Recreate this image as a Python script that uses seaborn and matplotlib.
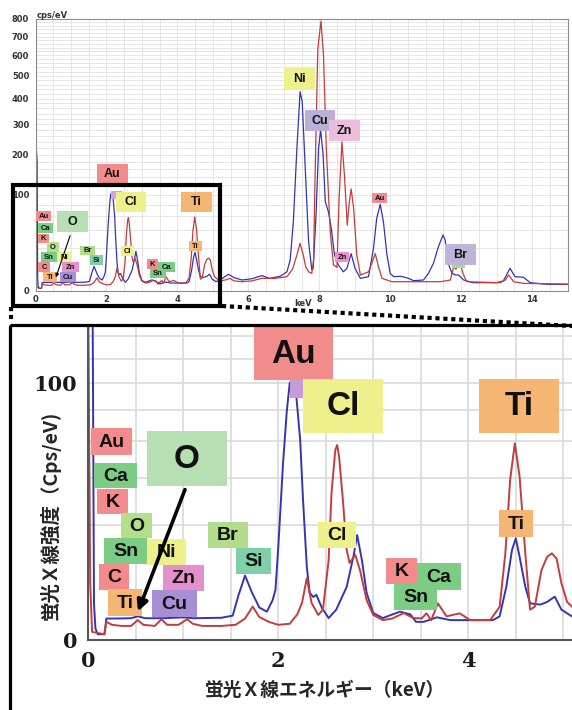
import numpy as np
import pandas as pd
import matplotlib
matplotlib.use("Agg")
import matplotlib.pyplot as plt
import seaborn as sns
from matplotlib.patches import Rectangle, FancyArrowPatch
from matplotlib.ticker import MultipleLocator, NullFormatter
from matplotlib.lines import Line2D

# ---------------- data ----------------
energy_blue = [0.0, 0.045, 0.06, 0.075, 0.10, 0.17, 0.19, 0.30, 0.45, 0.52, 0.60, 0.80, 1.00, 1.10,
               1.40, 1.52, 1.58, 1.65, 1.72, 1.80, 1.88, 1.94, 1.97, 2.00, 2.05, 2.09, 2.12, 2.15,
               2.17, 2.19, 2.23, 2.26, 2.30, 2.33, 2.37, 2.40, 2.46, 2.53, 2.61, 2.72, 2.79, 2.83,
               2.88, 2.93, 3.00, 3.10, 3.28, 3.39, 3.45, 3.53, 3.67, 3.81, 4.26, 4.33, 4.40, 4.46,
               4.50, 4.54, 4.60, 4.65, 4.76, 4.83, 4.91, 4.98, 5.09, 5.20, 5.44, 5.60, 5.82, 6.10,
               6.38, 6.60, 6.90, 7.09, 7.18, 7.27, 7.37, 7.46, 7.52, 7.60, 7.70, 7.79, 7.83, 7.91,
               7.98, 8.04, 8.11, 8.17, 8.26, 8.34, 8.43, 8.54, 8.68, 8.78, 8.90, 9.01, 9.16, 9.39,
               9.53, 9.62, 9.72, 9.81, 9.91, 10.00, 10.10, 10.30, 10.52, 10.66, 10.94, 11.08, 11.22,
               11.36, 11.49, 11.55, 11.64, 11.74, 11.84, 11.93, 12.07, 12.34, 13.00, 13.19, 13.38,
               13.52, 13.76, 13.95, 14.42, 15.00]
cps_blue = [270, 180, 2, 0.2, 0.05, 0.05, 0.7, 0.7, 0.72, 0.85, 0.72, 0.72, 0.78, 0.72,
            0.75, 0.9, 3.0, 6.3, 3.5, 1.6, 1.22, 2.4, 3.8, 13.2, 47.5, 80, 100, 104,
            102, 90, 61, 30, 8.2, 3.4, 2.8, 3.1, 1.55, 0.73, 1.4, 4.3, 10.5, 16.7,
            9.7, 3.35, 1.1, 0.73, 1.22, 1.0, 0.5, 0.5, 0.78, 0.6, 0.6, 0.85, 4.3, 12.3,
            15.7, 10.5, 4.3, 2.04, 1.9, 2.2, 2.85, 1.4, 0.85, 1.2, 2.85, 1.8, 1.2, 1.5,
            2.4, 1.6, 2.2, 3.8, 10, 51, 219, 429, 387, 171, 25.8, 4.6, 5.3, 62,
            219, 280, 199, 86, 67, 42, 13.7, 7.1, 3.8, 5.3, 14.7, 5.3, 1.6, 2.07,
            19.3, 56.5, 80.6, 51, 13.7, 3.2, 2.07, 2.2, 1.6, 1.04, 1.2, 3.2, 8,
            20.8, 33.4, 27.7, 8, 3.2, 2.6, 2.6, 1.2, 0.66, 0.66, 1.0, 5.3,
            2.07, 1.9, 0.66, 0.42, 0.4]

energy_red = [0.0, 0.02, 0.04, 0.17, 0.19, 0.25, 0.35, 0.45, 0.52, 0.58, 0.70, 0.77, 0.83, 0.95,
              1.04, 1.10, 1.20, 1.40, 1.55, 1.65, 1.73, 1.80, 1.90, 2.00, 2.12, 2.20, 2.25, 2.30,
              2.35, 2.42, 2.47, 2.53, 2.56, 2.60, 2.62, 2.64, 2.68, 2.72, 2.75, 2.81, 2.86, 2.93,
              3.00, 3.10, 3.20, 3.32, 3.42, 3.51, 3.56, 3.61, 3.68, 3.77, 3.91, 4.02, 4.23, 4.33,
              4.39, 4.44, 4.49, 4.54, 4.60, 4.65, 4.70, 4.77, 4.83, 4.88, 4.93, 4.98, 5.04, 5.09,
              5.20, 5.35, 5.48, 5.60, 5.82, 6.10, 6.38, 6.76, 7.09, 7.25, 7.37, 7.46, 7.55, 7.62,
              7.70, 7.79, 7.84, 7.88, 7.96, 8.05, 8.12, 8.20, 8.31, 8.40, 8.50, 8.56, 8.64, 8.71,
              8.79, 8.85, 8.90, 8.97, 9.06, 9.16, 9.39, 9.50, 9.58, 9.67, 9.77, 10.05, 11.42,
              11.70, 11.79, 11.85, 11.98, 12.05, 12.16, 13.10, 13.25, 13.34, 13.48, 13.76, 15.00]
cps_red = [160, 5, 0.1, 0.05, 0.5, 0.35, 0.3, 0.3, 0.6, 0.35, 0.3, 0.65, 0.35, 0.35,
           0.65, 0.4, 0.3, 0.3, 0.35, 0.7, 1.7, 0.8, 0.5, 0.35, 0.4, 1.0, 2.1, 5.8,
           2.1, 0.95, 1.4, 9.7, 32.7, 54.8, 57.7, 51, 29.7, 12.3, 9, 11, 7.4, 2.4,
           0.95, 0.6, 0.7, 1.1, 0.73, 0.71, 1.08, 0.6, 2.04, 0.85, 1.08, 0.6, 0.6, 1.68,
           11.4, 38.8, 58.7, 40.5, 11.4, 1.4, 1.68, 7.4, 10.5, 11.4, 10, 4.9, 2.2, 1.7,
           1.0, 1.2, 1.6, 1.0, 0.84, 1.0, 1.6, 1.6, 2.07, 5, 13.7, 24.2, 13.7, 6,
           3.8, 3.2, 10, 128, 636, 788, 601, 219, 37.5, 7.1, 5.8, 92, 240, 145,
           46.5, 85.6, 112, 73, 13.7, 2.6, 3.8, 9, 14.8, 6.1, 1.6, 0.84, 0.84,
           1.2, 6.1, 5, 7.5, 3.2, 0.84, 0.66, 1.2, 2.6, 0.84, 0.55, 0.45]

series_names = ["spectrum A", "spectrum B"]
top_yticks = [0, 100, 200, 300, 400, 500, 600, 700, 800]
top_xticks = [0, 2, 4, 6, 8, 10, 12, 14]
inset_yticks = [0, 100]
inset_xticks = [0, 2, 4]

df = pd.concat([
    pd.DataFrame({"energy": energy_blue, "cps": cps_blue, "series": series_names[0]}),
    pd.DataFrame({"energy": energy_red, "cps": cps_red, "series": series_names[1]}),
])
palette = {series_names[0]: "#3434b4", series_names[1]: "#c43c3c"}

# ---------------- figure ----------------
sns.set_style("white")
plt.rcParams["font.family"] = ["DejaVu Sans"]
W, H = 572, 710
fig = plt.figure(figsize=(W / 100, H / 100), dpi=100)

def fwd(y):
    return np.sqrt(np.clip(y, 0, None))

def inv(y):
    return np.square(y)

# top overview chart
ax1 = fig.add_axes([35.5 / W, 1 - 290.5 / H, (567.5 - 35.5) / W, (290.5 - 19) / H])
sns.lineplot(data=df, x="energy", y="cps", hue="series", palette=palette, estimator=None,
             legend=False, linewidth=0.9, ax=ax1)
ax1.set_yscale("function", functions=(fwd, inv))
ax1.set_xlim(0, 15)
ax1.set_ylim(0, 800)
ax1.set_yticks(top_yticks)
ax1.set_xticks(top_xticks)
ax1.yaxis.set_minor_locator(MultipleLocator(20))
ax1.xaxis.set_minor_locator(MultipleLocator(0.5))
ax1.yaxis.set_minor_formatter(NullFormatter())
ax1.xaxis.set_minor_formatter(NullFormatter())
ax1.grid(which="both", color="#e2e2e2", linewidth=0.6)
ax1.set_axisbelow(True)
for s in ax1.spines.values():
    s.set_color("#8c8c8c")
    s.set_linewidth(0.8)
ax1.tick_params(which="both", direction="out", color="#777777", width=0.6)
ax1.tick_params(which="major", length=3, pad=1.5, labelsize=6, labelcolor="#333333")
ax1.tick_params(which="minor", length=1.5)
ax1.tick_params(axis="x", which="both", length=0, pad=3)
for lab in ax1.get_xticklabels() + ax1.get_yticklabels():
    lab.set_fontweight("bold")
ax1.set_xlabel("")
ax1.set_ylabel("")

# zoomed inset chart
ax2 = fig.add_axes([88.3 / W, 1 - 640 / H, (572 - 88.3) / W, (640 - 325) / H])
sns.lineplot(data=df, x="energy", y="cps", hue="series", palette=palette, estimator=None,
             legend=False, linewidth=1.4, ax=ax2)
ax2.set_yscale("function", functions=(fwd, inv))
ax2.set_xlim(0, (572 - 88.3) / 95)
ax2.set_ylim(0, 150.6)
ax2.set_yticks(inset_yticks)
ax2.set_xticks(inset_xticks)
ax2.yaxis.set_minor_locator(MultipleLocator(20))
ax2.xaxis.set_minor_locator(MultipleLocator(0.5))
ax2.yaxis.set_minor_formatter(NullFormatter())
ax2.xaxis.set_minor_formatter(NullFormatter())
ax2.grid(which="both", color="#dadada", linewidth=1.2)
ax2.set_axisbelow(True)
for side in ["top", "right"]:
    ax2.spines[side].set_visible(False)
for side in ["left", "bottom"]:
    ax2.spines[side].set_color("#555555")
    ax2.spines[side].set_linewidth(1.5)
ax2.tick_params(which="both", direction="out", color="#555555", width=1.2, length=5)
ax2.tick_params(which="major", labelsize=15, labelcolor="#1a1a1a", pad=3)
for lab in ax2.get_xticklabels() + ax2.get_yticklabels():
    lab.set_family("DejaVu Serif")
    lab.set_fontweight("bold")
ax2.set_xlabel("")
ax2.set_ylabel("")

# ---------------- overlay in pixel coordinates ----------------
ov = fig.add_axes([0, 0, 1, 1], zorder=10)
ov.set_xlim(0, W)
ov.set_ylim(H, 0)
ov.axis("off")
ov.patch.set_visible(False)

cjk = ["Noto Sans CJK JP", "DejaVu Sans"]
ov.text(50, 515, "蛍光Ｘ線強度（Cps/eV)", rotation=90, ha="center", va="center",
        fontsize=14, fontweight="bold", family=cjk)
ov.text(325, 690, "蛍光Ｘ線エネルギー（keV）", ha="center", va="center",
        fontsize=13.5, fontweight="bold", family=cjk)
ov.text(37, 15, "cps/eV", ha="left", va="center", fontsize=6, fontweight="bold", color="#333333")
ov.text(303, 303, "keV", ha="center", va="center", fontsize=6, fontweight="bold", color="#333333", zorder=1)

SAL = "#f28c8c"
GRN = "#7dcc86"
YEL = "#eef08c"
ORA = "#f5b573"
PNK = "#e490cc"
PUR = "#a68fd4"

def box(x0, y0, x1, y1, text, color, size, weight="bold"):
    ov.add_patch(Rectangle((x0, y0), x1 - x0, y1 - y0, facecolor=color, edgecolor="none", zorder=3))
    if text:
        ov.text((x0 + x1) / 2, (y0 + y1) / 2 + 0.04 * size, text, ha="center", va="center",
                fontsize=size, fontweight=weight, family="Liberation Sans", color="#111111", zorder=4)

# top chart labels
top_small = 5.5
top_big = 9
box(97, 164, 128, 184, "Au", SAL, top_big)
box(111, 191, 122, 199, "", "#d2a2e0", top_small)
box(116, 192, 146, 212, "Cl", YEL, top_big)
box(181, 192, 212, 212, "Ti", ORA, top_big)
box(36, 211, 51, 221, "Au", SAL, top_small)
box(57, 211, 88, 232, "O", "#b6dfb4", top_big)
box(38, 223, 53, 233, "Ca", GRN, top_small)
box(38, 234, 49, 243, "K", SAL, top_small)
box(47, 242, 59, 252, "O", "#b4de8a", top_small)
box(41, 252, 57, 262, "Sn", GRN, top_small)
box(57, 252, 72, 262, "Ni", YEL, top_small)
box(38, 262, 50, 272, "C", SAL, top_small)
box(62, 262, 79, 272, "Zn", PNK, top_small)
box(43, 272, 57, 282, "Ti", ORA, top_small)
box(60, 272, 76, 282, "Cu", PUR, top_small)
box(80, 246, 95, 255, "Br", "#b2dc8c", top_small)
box(90, 255, 103, 265, "Si", "#7fd0a8", top_small)
box(121, 246, 134, 256, "Cl", YEL, top_small)
box(189, 241, 202, 251, "Ti", ORA, top_small)
box(147, 259, 158, 269, "K", SAL, top_small)
box(158, 262, 175, 272, "Ca", GRN, top_small)
box(150, 269, 166, 278, "Sn", GRN, top_small)
box(284, 68, 315, 89, "Ni", YEL, top_big)
box(305, 110, 335, 131, "Cu", "#bdb0d6", top_big)
box(329, 120, 360, 141, "Zn", "#e9bfdc", top_big)
box(372, 193, 387, 203, "Au", SAL, top_small)
box(335, 252, 349, 262, "Zn", "#ee90c8", top_small)
box(445, 244, 476, 265, "Br", "#c0b3d8", top_big)
box(452, 265, 465, 268, "", "#98e098", top_small)
ov.add_patch(FancyArrowPatch((71, 233), (55, 280), arrowstyle="-|>", mutation_scale=5,
                             color="black", linewidth=0.8, zorder=5))

# inset labels
in_small = 14
in_big = 24
box(254, 327, 333, 380, "Au", SAL, in_big)
box(290, 380, 303, 398, "", "#c99ad9", in_small)
box(303, 379, 383, 433, "Cl", YEL, in_big)
box(479, 379, 559, 433, "Ti", ORA, in_big)
box(91, 428, 132, 455, "Au", SAL, in_small)
box(147, 431, 227, 486, "O", "#b6dfb4", in_big)
box(94, 463, 137, 488, "Ca", GRN, in_small)
box(97, 489, 128, 514, "K", SAL, in_small)
box(121, 513, 152, 538, "O", "#b4de8a", in_small)
box(104, 538, 147, 564, "Sn", GRN, in_small)
box(147, 539, 186, 565, "Ni", YEL, in_small)
box(99, 564, 129, 590, "C", SAL, in_small)
box(163, 565, 204, 591, "Zn", PNK, in_small)
box(108, 589, 142, 616, "Ti", ORA, in_small)
box(152, 590, 197, 617, "Cu", PUR, in_small)
box(208, 522, 248, 548, "Br", "#b2dc8c", in_small)
box(236, 548, 271, 574, "Si", "#7fd0a8", in_small)
box(318, 522, 356, 548, "Cl", YEL, in_small)
box(386, 558, 417, 584, "K", SAL, in_small)
box(417, 563, 461, 590, "Ca", GRN, in_small)
box(394, 584, 437, 610, "Sn", GRN, in_small)
box(499, 510, 533, 537, "Ti", ORA, in_small)
ov.add_patch(FancyArrowPatch((186, 487), (137, 614), arrowstyle="-|>", mutation_scale=16,
                             color="black", linewidth=2.6, zorder=5))

# zoom box, connectors and inset frame
ov.add_patch(Rectangle((12.5, 184.5), 207, 121, facecolor="none", edgecolor="black",
                       linewidth=3.0, zorder=6))
ov.add_line(Line2D([11, 11], [307, 322], color="black", linewidth=3.0,
                   linestyle=(0, (1.0, 0.9)), zorder=6))
ov.add_line(Line2D([222, 572], [306, 326], color="black", linewidth=3.0,
                   linestyle=(0, (1.0, 0.9)), zorder=6))
ov.add_patch(Rectangle((9.5, 324.5), 600, 500, facecolor="none", edgecolor="black",
                       linewidth=2.3, zorder=6))

fig.savefig("out.png", dpi=100)
